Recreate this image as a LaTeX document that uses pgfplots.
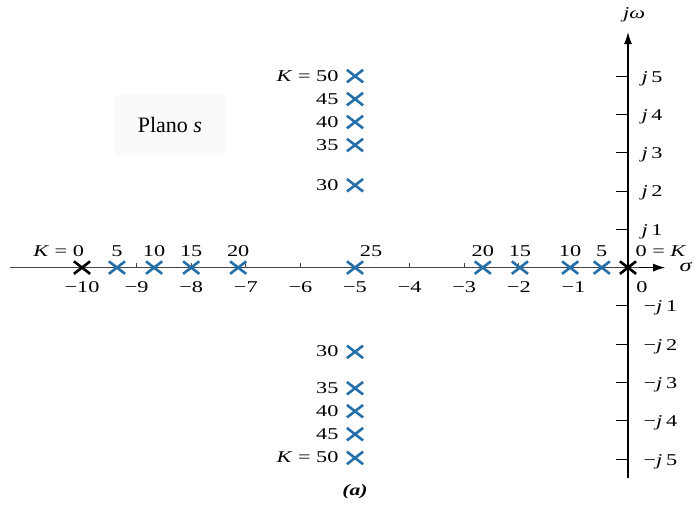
\documentclass[border=0pt]{standalone}
\usepackage{graphicx}
\usepackage{pgfplots}
\pgfplotsset{compat=1.18}
\usetikzlibrary{arrows.meta}
\usepackage{fontspec}
\setmainfont{Liberation Serif}

\definecolor{locusblue}{RGB}{38,112,170}
\definecolor{axisgray}{RGB}{70,70,70}

% labels are set a little wider than tall, like the rest of the figure
\newcommand{\hstr}[1]{\scalebox{1.35}[1]{#1}}
\newcommand{\lbl}{\fontsize{16.5}{18}\selectfont}

% closed-loop poles of s^2 + 10 s + K for K = 0, 5, ..., 50
\pgfplotstableread{
re    im
-9.36  0
-8.68  0
-8.00  0
-7.14  0
-5.00  0
-2.66  0
-1.98  0
-1.06  0
-0.48  0
-5.00  2.15
-5.00  3.20
-5.00  3.80
-5.00  4.40
-5.00  5.00
-5.00 -2.20
-5.00 -3.15
-5.00 -3.75
-5.00 -4.35
-5.00 -4.97
}\locus
\pgfplotstableread{
re  im
-10 0
0   0
}\openloop

\begin{document}
\begin{tikzpicture}
\begin{axis}[
  x=54.6pt, y=38.3pt,
  xmin=-11.502, xmax=1.282, ymin=-6.277, ymax=6.987,
  axis lines=none, clip=false,
]
\path (axis cs:-11.502,-6.277) rectangle (axis cs:1.282,6.987);

% s-plane label
\fill[black!2] (axis cs:-9.40,2.94) rectangle (axis cs:-7.38,4.50);
\node[font=\fontsize{22}{24}\selectfont] at (axis cs:-8.39,3.72) {Plano \textit{s}};

% real and imaginary axes
\draw[axisgray, line width=1.1pt] (axis cs:-11.32,0) -- (axis cs:0.3,0);
\draw[black, line width=1.1pt, -{Latex[length=12pt,width=8pt]}]
  (axis cs:0.2,0) -- (axis cs:0.68,0);
\draw[black, line width=1.2pt, -{Latex[length=12pt,width=8pt]}]
  (axis cs:0,-5.49) -- (axis cs:0,6.15);

% ticks on the real axis
\pgfplotsinvokeforeach{-9,-8,-7,-6,-4,-3,-2,-1}{
  \draw[axisgray, line width=0.9pt] (axis cs:#1,0) -- (axis cs:#1,0.13);
}
\pgfplotsinvokeforeach{1,...,10}{
  \node[anchor=base, font=\lbl, yshift=-25pt] at (axis cs:-#1,0) {\hstr{−#1}};
}
\node[anchor=base, font=\lbl, xshift=14pt, yshift=-25pt] at (axis cs:0,0) {\hstr{0}};

% ticks on the imaginary axis
\pgfplotsinvokeforeach{1,...,5}{
  \draw[black, line width=0.9pt] (axis cs:0,#1) -- (axis cs:-0.22,#1);
  \draw[black, line width=0.9pt] (axis cs:0,-#1) -- (axis cs:-0.22,-#1);
  \node[anchor=base west, font=\lbl, xshift=10pt, yshift=-6pt] at (axis cs:0,#1) {\hstr{\textit{j}\,#1}};
  \node[anchor=base west, font=\lbl, xshift=12pt, yshift=-6pt] at (axis cs:0,-#1) {\hstr{−\textit{j}\,#1}};
}
\node[font=\lbl] at (axis cs:0.11,6.6) {\hstr{\textit{jω}}};
\node[font=\fontsize{18}{20}\selectfont] at (axis cs:1.06,0.02) {\hstr{\textit{σ}}};

% gain values along the locus
\node[anchor=base east, font=\lbl, xshift=5.5pt, yshift=11pt] at (axis cs:-10,0) {\hstr{\textit{K} = 0}};
\node[anchor=base, font=\lbl, yshift=11pt] at (axis cs:-9.36,0) {\hstr{5}};
\node[anchor=base, font=\lbl, yshift=11pt] at (axis cs:-8.68,0) {\hstr{10}};
\node[anchor=base, font=\lbl, yshift=11pt] at (axis cs:-8.00,0) {\hstr{15}};
\node[anchor=base, font=\lbl, yshift=11pt] at (axis cs:-7.14,0) {\hstr{20}};
\node[anchor=base, font=\lbl, xshift=16pt, yshift=11pt] at (axis cs:-5,0) {\hstr{25}};
\node[anchor=base, font=\lbl, yshift=11pt] at (axis cs:-2.66,0) {\hstr{20}};
\node[anchor=base, font=\lbl, yshift=11pt] at (axis cs:-1.98,0) {\hstr{15}};
\node[anchor=base, font=\lbl, yshift=11pt] at (axis cs:-1.06,0) {\hstr{10}};
\node[anchor=base, font=\lbl, yshift=11pt] at (axis cs:-0.48,0) {\hstr{5}};
\node[anchor=base west, font=\lbl, xshift=4pt, yshift=11pt] at (axis cs:0,0) {\hstr{0 = \textit{K}}};

\node[anchor=base east, font=\lbl, xshift=-13pt, yshift=-5pt] at (axis cs:-5,5.00) {\hstr{\textit{K} = 50}};
\node[anchor=base east, font=\lbl, xshift=-13pt, yshift=-5pt] at (axis cs:-5,4.40) {\hstr{45}};
\node[anchor=base east, font=\lbl, xshift=-13pt, yshift=-5pt] at (axis cs:-5,3.80) {\hstr{40}};
\node[anchor=base east, font=\lbl, xshift=-13pt, yshift=-5pt] at (axis cs:-5,3.20) {\hstr{35}};
\node[anchor=base east, font=\lbl, xshift=-13pt, yshift=-5pt] at (axis cs:-5,2.15) {\hstr{30}};
\node[anchor=base east, font=\lbl, xshift=-13pt, yshift=-5pt] at (axis cs:-5,-2.20) {\hstr{30}};
\node[anchor=base east, font=\lbl, xshift=-13pt, yshift=-5pt] at (axis cs:-5,-3.15) {\hstr{35}};
\node[anchor=base east, font=\lbl, xshift=-13pt, yshift=-5pt] at (axis cs:-5,-3.75) {\hstr{40}};
\node[anchor=base east, font=\lbl, xshift=-13pt, yshift=-5pt] at (axis cs:-5,-4.35) {\hstr{45}};
\node[anchor=base east, font=\lbl, xshift=-13pt, yshift=-5pt] at (axis cs:-5,-4.97) {\hstr{\textit{K} = 50}};

% pole locations
\addplot[only marks, mark=x, mark size=8pt,
  mark options={locusblue, line width=2.6pt, scale=1.3, xscale=1.1, yscale=0.85}] table[x=re, y=im] {\locus};
\addplot[only marks, mark=x, mark size=8pt,
  mark options={black, line width=2.6pt, scale=1.3, xscale=1.1, yscale=0.85}] table[x=re, y=im] {\openloop};

\node[font=\fontsize{16}{18}\selectfont\bfseries\itshape] at (axis cs:-5,-5.86) {\hstr{(a)}};
\end{axis}
\end{tikzpicture}
\end{document}
